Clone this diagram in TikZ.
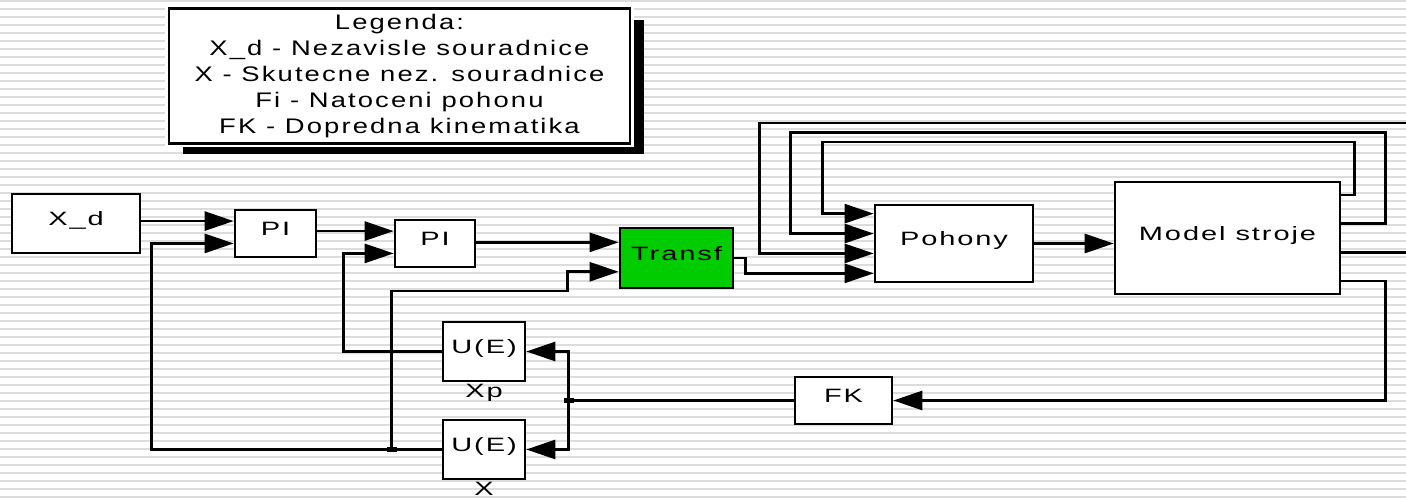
\documentclass[tikz,border=0pt]{standalone}
\usepackage{fontspec}
\setmainfont{Liberation Sans}
\newfontfamily\blkfont{Liberation Sans}[FakeStretch=1.5,LetterSpace=10]
\newfontfamily\legfont{Liberation Sans}[FakeStretch=1.3,LetterSpace=10]
\definecolor{simgreen}{RGB}{0,204,0}
\definecolor{stripegray}{RGB}{220,220,220}
\usetikzlibrary{arrows.meta,calc,shadows}

\tikzset{
  blk/.style={draw, fill=white, line width=1.5pt, inner sep=0pt, font=\blkfont\fontsize{11}{13}\selectfont, text height=0.28cm, text depth=0.18cm},
  sig/.style={line width=1.5pt, -{Triangle[length=0.58cm,width=0.38cm]}},
  wire/.style={line width=1.5pt},
  junction/.style={fill, inner sep=0pt, minimum width=0.2cm, minimum height=0.1cm},
  lbl/.style={font=\blkfont\fontsize{11}{13}\selectfont, inner sep=1pt}
}

\begin{document}
\begin{tikzpicture}[x=0.02cm, y=-0.02cm]
  \useasboundingbox (0,0) rectangle (1406,499);
  % striped background
  \foreach \y in {0,8,...,496}
    \fill[stripegray] (0,\y) rectangle (1406,\y+2);
  % legend
  \node[draw, fill=white, line width=1.5pt, drop shadow={shadow xshift=0.28cm, shadow yshift=-0.22cm, fill=black, opacity=1}, preaction={draw=white, line width=4.5pt}, minimum width=9.22cm, minimum height=2.68cm, align=center, font=\legfont\fontsize{12}{14.7}\selectfont] (legend) at (399.5,76) {%
    Legenda:\\
    X\_d - Nezavisle souradnice\\
    X - Skutecne nez. souradnice\\
    Fi - Natoceni pohonu\\
    FK - Dopredna kinematika};
  % blocks
  \node[blk, minimum width=2.56cm, minimum height=1.18cm] (xd) at (76,223.5) {X\_d};
  \node[blk, minimum width=1.62cm, minimum height=0.94cm] (pia) at (275.5,233.5) {PI};
  \node[blk, minimum width=1.6cm, minimum height=0.94cm] (pib) at (435,243.5) {PI};
  \node[blk, fill=simgreen, minimum width=2.26cm, minimum height=1.2cm] (transf) at (676.5,258) {Transf};
  \node[blk, minimum width=3.16cm, minimum height=1.54cm] (pohony) at (954,243.5) {Pohony};
  \node[blk, minimum width=4.5cm, minimum height=2.24cm] (model) at (1227.5,238) {Model stroje};
  \node[blk, minimum width=1.94cm, minimum height=0.94cm] (fk) at (843.5,400.5) {FK};
  \node[blk, minimum width=1.64cm, minimum height=1.18cm, label={[lbl]below:Xp}] (uexp) at (484,351.5) {U(E)};
  \node[blk, minimum width=1.64cm, minimum height=1.18cm, label={[lbl]below:X}] (uex) at (484,449.5) {U(E)};
  % ports
  \coordinate (pia-in1) at ($(pia.north west)!0.25!(pia.south west)$);
  \coordinate (pia-in2) at ($(pia.north west)!0.7!(pia.south west)$);
  \coordinate (pib-in1) at ($(pib.north west)!0.25!(pib.south west)$);
  \coordinate (pib-in2) at ($(pib.north west)!0.7!(pib.south west)$);
  \coordinate (transf-in1) at ($(transf.north west)!0.25!(transf.south west)$);
  \coordinate (transf-in2) at ($(transf.north west)!0.72!(transf.south west)$);
  \foreach \i/\f in {1/0.125,2/0.375,3/0.625,4/0.875} {
    \coordinate (pohony-in\i) at ($(pohony.north west)!\f!(pohony.south west)$);
    \coordinate (model-out\i) at ($(model.north east)!\f!(model.south east)$);
  }
  \coordinate (loop-in) at (1406,123);
  \coordinate (loop-out) at (1406,252);
  % forward path
  \draw[sig] (xd.east |- pia-in1) -- (pia-in1);
  \draw[sig] (pia.east |- pib-in1) -- (pib-in1);
  \draw[sig] (pib.east |- transf-in1) -- (transf-in1);
  \draw[sig] (transf.east) -- ++(11,0) |- (pohony-in4);
  \draw[sig] (pohony.east) -- (pohony.east -| model.west);
  % loops round the drives
  \draw[sig] (model-out1) -- ++(13,0) -- ++(0,-53) -| ([xshift=-1.02cm]pohony-in1) -- (pohony-in1);
  \draw[sig] (model-out2) -- ++(44,0) -- ++(0,-91) -| ([xshift=-1.66cm]pohony-in2) -- (pohony-in2);
  \draw[sig] (loop-in) -| ([xshift=-2.28cm]pohony-in3) -- (pohony-in3);
  \draw[wire] (model-out3) -- (model-out3 -| loop-out);
  % kinematics feedback
  \draw[sig] (model-out4) -- ++(44,0) |- (fk.east);
  \draw[wire] (fk.west) -- ++(-225,0) coordinate (jfk);
  \draw[sig] (jfk) |- (uexp.east);
  \draw[sig] (jfk) |- (uex.east);
  \draw[sig] (uexp.west) -- ++(-98,0) |- (pib-in2);
  \draw[sig] (uex.west) -- ++(-290,0) |- (pia-in2);
  \path (uex.west) -- ++(-50,0) coordinate (jx);
  \draw[sig] (jx) -- ++(0,-158.5) -| ([xshift=-1.02cm]transf-in2) -- (transf-in2);
  % junctions
  \node[junction] (dot-x) at (jx) {};
  \node[junction] (dot-fk) at (jfk) {};
\end{tikzpicture}
\end{document}
